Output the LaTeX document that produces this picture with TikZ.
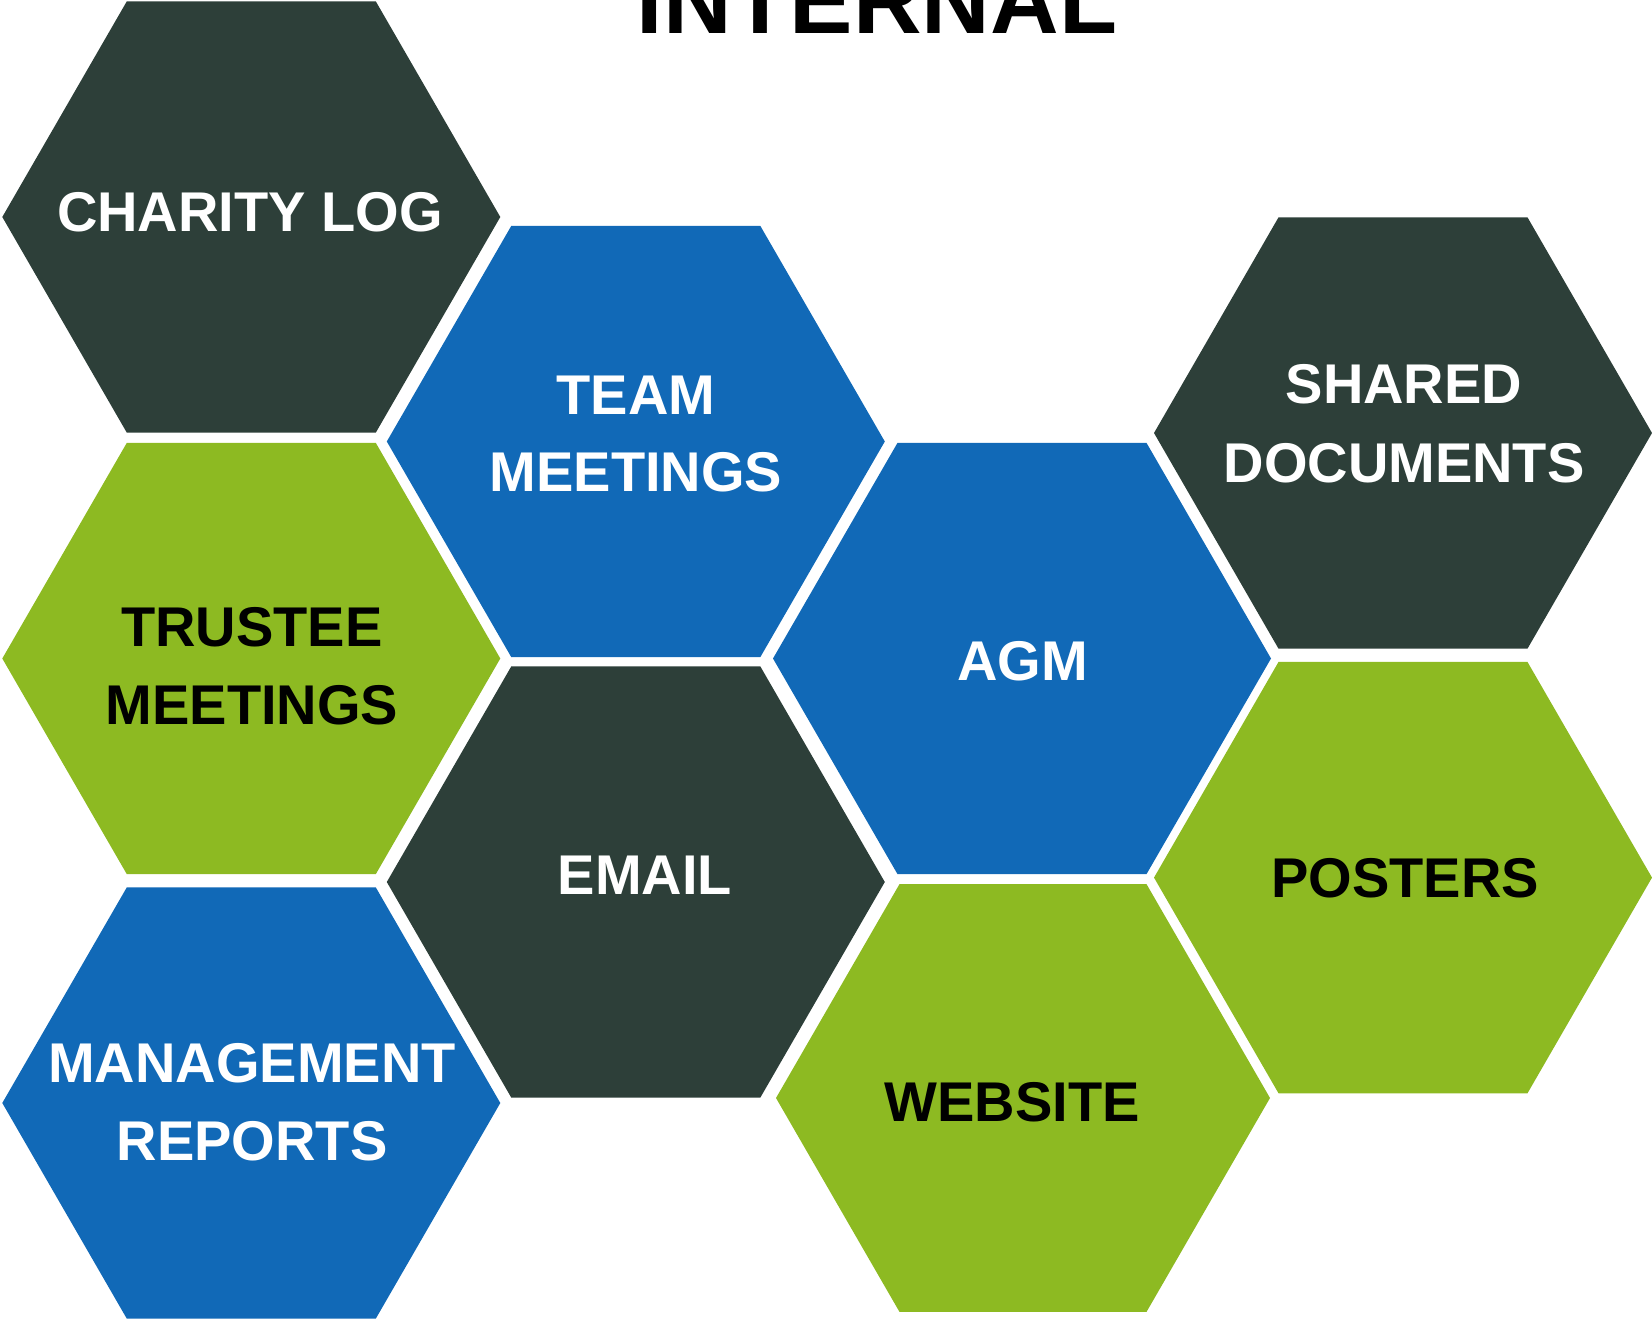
\documentclass[tikz,border=0pt]{standalone}
\usepackage{fontspec}
\setmainfont{Liberation Sans}
\definecolor{slate}{HTML}{2D3F39}
\definecolor{royal}{HTML}{1169B7}
\definecolor{lime}{HTML}{8DBA22}
% flat-topped hexagon: name, centre x, centre y, circumradius, fill colour
\newcommand\hexcell[5]{%
  \coordinate (#1) at (#2,#3);
  \fill[#5, shift={(#2,#3)}]
    (#4,0) -- ({#4/2},{0.8660254*#4}) -- ({-#4/2},{0.8660254*#4})
    -- (-#4,0) -- ({-#4/2},{-0.8660254*#4}) -- ({#4/2},{-0.8660254*#4}) -- cycle;
}
\begin{document}
\begin{tikzpicture}[x=1pt,y=-1pt,
  lbl/.style={font=\bfseries\fontsize{56}{56}\selectfont, anchor=base, inner sep=0pt},
  light/.style={lbl, text=white},
  dark/.style={lbl, text=black}]
\useasboundingbox (0,0) rectangle (1652,1319);

% honeycomb cells
\hexcell{charity}{251.3}{217}{249}{slate}
\hexcell{trustee}{251.3}{658.5}{249}{lime}
\hexcell{mgmt}{251.3}{1103}{249}{royal}
\hexcell{team}{635.8}{441.5}{249}{royal}
\hexcell{email}{635.8}{882}{249}{slate}
\hexcell{agm}{1022}{658.5}{249}{royal}
\hexcell{web}{1023}{1098}{247}{lime}
\hexcell{shared}{1403}{433}{249}{slate}
\hexcell{posters}{1403}{877.6}{249}{lime}

% heading, partly above the page edge
\node[font=\bfseries\fontsize{95}{95}\selectfont, anchor=base, inner sep=0pt] (title) at (877,34) {INTERNAL};

% cell labels
\node[light] (charityL) at (250,231) {CHARITY LOG};
\node[light] (teamA) at (636,414) {TEAM};
\node[light] (teamB) at (636,491) {MEETINGS};
\node[light] (sharedA) at (1404,403.5) {SHARED};
\node[light] (sharedB) at (1404,482.5) {DOCUMENTS};
\node[dark] (trusteeA) at (252,646) {TRUSTEE};
\node[dark] (trusteeB) at (252,724) {MEETINGS};
\node[light] (agmL) at (1022.5,680.6) {AGM};
\node[light] (emailL) at (645,894.5) {EMAIL};
\node[dark] (postersL) at (1405,897.6) {POSTERS};
\node[light] (mgmtA) at (252,1082) {MANAGEMENT};
\node[light] (mgmtB) at (252,1160) {REPORTS};
\node[dark] (webL) at (1012,1121.5) {WEBSITE};
\end{tikzpicture}
\end{document}
